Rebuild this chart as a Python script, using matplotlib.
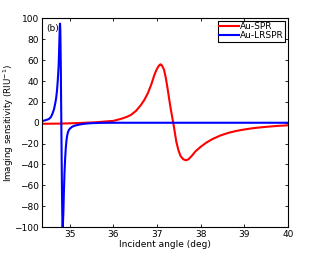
import matplotlib.pyplot as plt

# Au-LRSPR (blue)
lr_x = [34.36, 34.45, 34.52, 34.57, 34.61, 34.64, 34.67, 34.69, 34.71, 34.725, 34.735,
        34.745, 34.755, 34.765, 34.772, 34.778, 34.785, 34.795, 34.805, 34.815, 34.825,
        34.832, 34.838, 34.845, 34.855, 34.865, 34.88, 34.895, 34.91, 34.925, 34.94,
        34.96, 34.98, 35.0, 35.05, 35.1, 35.17, 35.25, 35.35, 35.5, 35.7, 36.0,
        37.0, 38.0, 39.0, 40.0]
lr_y = [1.5, 2.5, 3.5, 5.5, 9.3, 13, 19, 24, 31.6, 40, 47,
        54, 67, 82, 92, 95, 88, 55, 10, -35, -75,
        -95, -100, -96, -85, -68, -48, -34, -24, -17, -12.5,
        -9, -7, -5.8, -4, -3, -2.2, -1.5, -0.9, -0.4, -0.1, 0,
        0, 0, 0, 0]

# Au-SPR (red)
spr_x = [34.36, 34.8, 35.2, 35.6, 36.0, 36.18, 36.3, 36.41, 36.52, 36.63, 36.71, 36.79,
         36.87, 36.94, 36.99, 37.03, 37.06, 37.08, 37.1, 37.13, 37.16, 37.2, 37.24,
         37.28, 37.31, 37.34, 37.37, 37.40, 37.44, 37.49, 37.54, 37.6, 37.66, 37.72,
         37.8, 37.88, 38.0, 38.13, 38.26, 38.45, 38.64, 38.83, 39.02, 39.2, 39.4,
         39.7, 40.0]
spr_y = [-1, -0.8, -0.3, 0.5, 1.8, 3.8, 5.5, 7.7, 11.5, 17, 22, 28.4,
         37, 46, 51, 54, 55.5, 56, 55.5, 53.5, 50.7, 43, 33,
         22, 14, 7, 0, -7.5, -18, -26.5, -32, -35, -36, -35,
         -31.5, -27.4, -23, -19, -15.8, -12.2, -9.6, -7.7, -6.3, -5.2, -4.3,
         -3.2, -2.4]

plt.rcParams["font.family"] = ["DejaVu Sans"]

fig = plt.figure(figsize=(3.19, 2.56), dpi=100)
ax = fig.add_axes([0.131, 0.113, 0.772, 0.815])

ax.plot(spr_x, spr_y, color="red", linewidth=1.5, label="Au-SPR")
ax.plot(lr_x, lr_y, color="blue", linewidth=1.5, label="Au-LRSPR")

ax.set_xlim(34.36, 40)
ax.set_ylim(-100, 100)
ax.set_xticks([35, 36, 37, 38, 39, 40])
ax.set_yticks(range(-100, 101, 20))
ax.tick_params(direction="in", top=True, right=True, length=2.5, width=0.6,
               labelsize=6.5, pad=2)
for s in ax.spines.values():
    s.set_linewidth(0.8)

ax.set_xlabel("Incident angle (deg)", fontsize=6.5, labelpad=1)
ax.set_ylabel("Imaging sensitivity (RIU$^{-1}$)", fontsize=6.3)
ax.yaxis.set_label_coords(-0.105, 0.5)
ax.text(0.02, 0.975, "(b)", transform=ax.transAxes, ha="left", va="top", fontsize=6.5)

leg = ax.legend(loc="upper right", fontsize=6.5, handlelength=2.2, handletextpad=0.1,
                borderaxespad=0.3, borderpad=0.15, labelspacing=0.0, fancybox=False,
                framealpha=1, edgecolor="black")
leg.get_frame().set_linewidth(0.8)

plt.savefig("out.png", dpi=100)
